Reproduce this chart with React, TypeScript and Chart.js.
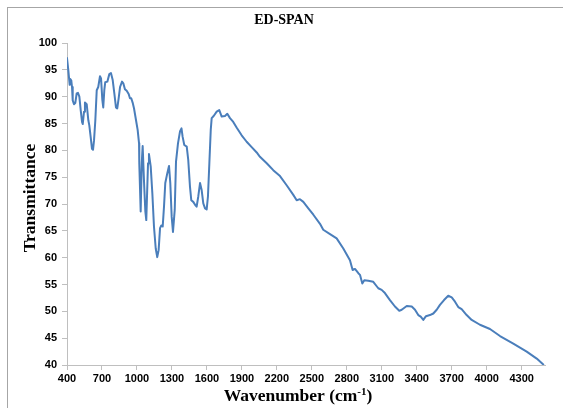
import React, { useEffect, useRef } from "react";
import { Chart, registerables } from "chart.js";

Chart.register(...registerables);

// Wavenumber (cm-1)
const wavenumbers = [
  400, 411, 417, 423, 428, 437, 443, 449, 460, 471,
  483, 494, 506, 518, 529, 535, 546, 554, 569, 583,
  591, 603, 614, 623, 632, 643, 655, 668, 683, 692,
  703, 711, 720, 728, 746, 763, 777, 792, 806, 820,
  831, 843, 855, 872, 883, 897, 912, 929, 940, 951,
  963, 975, 992, 1006, 1018, 1020, 1032, 1041, 1049, 1060,
  1072, 1080, 1095, 1103, 1118, 1132, 1146, 1161, 1174, 1186,
  1198, 1209, 1221, 1232, 1243, 1260, 1275, 1286, 1298, 1309,
  1324, 1335, 1352, 1369, 1382, 1392, 1406, 1427, 1440, 1455,
  1466, 1483, 1500, 1512, 1526, 1541, 1555, 1569, 1584, 1598,
  1609, 1621, 1633, 1641, 1658, 1684, 1706, 1727, 1755, 1775,
  1798, 1826, 1856, 1898, 1941, 1984, 2027, 2055, 2113, 2169,
  2227, 2284, 2341, 2370, 2398, 2427, 2470, 2513, 2570, 2598,
  2656, 2713, 2770, 2827, 2850, 2870, 2899, 2913, 2933, 2950,
  2984, 3027, 3070, 3099, 3127, 3170, 3213, 3250, 3271, 3314,
  3357, 3385, 3413, 3434, 3456, 3479, 3513, 3542, 3571, 3599,
  3634, 3670, 3700, 3728, 3756, 3785, 3828, 3871, 3942, 4028,
  4114, 4228, 4343, 4429, 4485,
];

// Transmittance (%)
const transmittance = [
  97.2, 95, 95, 92.2, 93.3, 93, 91.8, 89.3, 88.6, 88.8,
  90.6, 90.7, 90, 87.4, 85.3, 84.9, 87.2, 88.9, 88.6, 85.6,
  84.7, 82.5, 80.3, 80.1, 81.9, 85.6, 91.2, 91.8, 93.8, 93.4,
  89.4, 88, 91.2, 92.7, 92.8, 94.2, 94.4, 93.1, 90.6, 88,
  87.8, 89.7, 91.8, 92.8, 92.5, 91.4, 91.1, 90.5, 89.7, 89.7,
  88.9, 87.8, 85.6, 83.8, 81.3, 77.6, 68.6, 77.6, 80.8, 74.5,
  68.6, 67, 77.6, 79.3, 77, 72, 65.8, 61.7, 60.1, 61.4,
  65.5, 66, 65.8, 69.5, 73.9, 75.7, 77.1, 73.9, 67.6, 64.8,
  68.9, 77.9, 81.3, 83.5, 84.1, 82.5, 81, 80.7, 78.2, 73.2,
  70.7, 70.4, 69.8, 69.5, 71.4, 73.9, 72.6, 70.1, 69.2, 69,
  71.4, 77.6, 83.8, 86, 86.4, 87.2, 87.5, 86.3, 86.4, 86.8,
  86, 85.3, 84.2, 82.8, 81.6, 80.6, 79.6, 78.8, 77.6, 76.3,
  75.2, 73.5, 71.7, 70.7, 70.9, 70.4, 69.2, 68, 66.3, 65.2,
  64.4, 63.6, 61.7, 59.5, 57.7, 57.9, 57.1, 56.8, 55.2, 55.8,
  55.7, 55.5, 54.3, 54, 53.4, 52.1, 50.9, 50.1, 50.3, 51,
  50.9, 50.3, 49.3, 49, 48.4, 49.1, 49.3, 49.6, 50.3, 51.2,
  52.1, 52.9, 52.6, 51.8, 50.8, 50.4, 49.3, 48.4, 47.5, 46.7,
  45.4, 44, 42.5, 41.2, 40.1,
];

const xTicks = [400, 700, 1000, 1300, 1600, 1900, 2200, 2500, 2800, 3100, 3400, 3700, 4000, 4300];
const yTicks = [40, 45, 50, 55, 60, 65, 70, 75, 80, 85, 90, 95, 100];
const xMin = 400;
const xMax = 4500;
const yMin = 40;
const yMax = 100;

const chartTitle = "ED-SPAN";
const yAxisTitle = "Transmittance";
const xAxisTitleMain = "Wavenumber (cm";
const xAxisTitleSup = "-1";
const xAxisTitleEnd = ")";

const SERIF = '"Liberation Serif", "Times New Roman", serif';
const SANS = '"Liberation Sans", Arial, sans-serif';
const AXIS_GRAY = "#bfbfbf";

const titlesPlugin = {
  id: "titlesPlugin",
  afterDraw(chart: any) {
    const ctx = chart.ctx as CanvasRenderingContext2D;
    ctx.save();
    ctx.fillStyle = "#000";
    ctx.textBaseline = "alphabetic";

    // Chart title
    ctx.font = `bold 14px ${SERIF}`;
    ctx.textAlign = "center";
    ctx.fillText(chartTitle, 284, 24);

    // X axis title with superscript
    const cx = 298;
    const baseY = 401;
    ctx.textAlign = "left";
    ctx.font = `bold 17.5px ${SERIF}`;
    const w1 = ctx.measureText(xAxisTitleMain).width;
    const w3 = ctx.measureText(xAxisTitleEnd).width;
    ctx.font = `bold 11px ${SERIF}`;
    const w2 = ctx.measureText(xAxisTitleSup).width;
    let x = cx - (w1 + w2 + w3) / 2;
    ctx.font = `bold 17.5px ${SERIF}`;
    ctx.fillText(xAxisTitleMain, x, baseY);
    x += w1;
    ctx.font = `bold 11px ${SERIF}`;
    ctx.fillText(xAxisTitleSup, x, baseY - 6.5);
    x += w2;
    ctx.font = `bold 17.5px ${SERIF}`;
    ctx.fillText(xAxisTitleEnd, x, baseY);

    // Y axis title (rotated)
    ctx.translate(35, 198);
    ctx.rotate(-Math.PI / 2);
    ctx.textAlign = "center";
    ctx.font = `bold 17.5px ${SERIF}`;
    ctx.fillText(yAxisTitle, 0, 0);
    ctx.restore();
  },
};

export default function App() {
  const canvasRef = useRef<HTMLCanvasElement>(null);

  useEffect(() => {
    const canvas = canvasRef.current;
    if (!canvas) return;
    const points = wavenumbers.map((w, i) => ({ x: w, y: transmittance[i] }));
    const chart = new Chart(canvas, {
      type: "line",
      data: {
        datasets: [
          {
            data: points,
            borderColor: "#4a7ebb",
            backgroundColor: "#4a7ebb",
            borderWidth: 2,
            pointRadius: 0,
            tension: 0,
            borderJoinStyle: "round",
            borderCapStyle: "round",
            fill: false,
          },
        ],
      },
      options: {
        responsive: false,
        devicePixelRatio: 1,
        animation: false,
        events: [],
        layout: { padding: { top: 43, right: 18, left: 0, bottom: 0 } },
        plugins: {
          legend: { display: false },
          tooltip: { enabled: false },
          title: { display: false },
        },
        scales: {
          x: {
            type: "linear",
            min: xMin,
            max: xMax,
            afterBuildTicks: (scale: any) => {
              scale.ticks = xTicks.map((v) => ({ value: v }));
            },
            afterFit: (scale: any) => {
              scale.height = 43;
            },
            grid: {
              drawOnChartArea: false,
              drawTicks: true,
              tickLength: 5,
              color: AXIS_GRAY,
            },
            border: { display: true, color: AXIS_GRAY, width: 1 },
            ticks: {
              autoSkip: false,
              maxRotation: 0,
              minRotation: 0,
              padding: 2,
              color: "#000",
              font: { family: SANS, size: 11, weight: "bold" },
              callback: (v: any) => String(v),
            },
          },
          y: {
            type: "linear",
            min: yMin,
            max: yMax,
            afterBuildTicks: (scale: any) => {
              scale.ticks = yTicks.map((v) => ({ value: v }));
            },
            afterFit: (scale: any) => {
              scale.width = 67;
            },
            grid: {
              drawOnChartArea: false,
              drawTicks: true,
              tickLength: 5,
              color: AXIS_GRAY,
            },
            border: { display: true, color: AXIS_GRAY, width: 1 },
            ticks: {
              padding: 5,
              color: "#000",
              font: { family: SANS, size: 11, weight: "bold" },
              callback: (v: any) => String(v),
            },
          },
        },
      } as any,
      plugins: [titlesPlugin],
    });
    return () => chart.destroy();
  }, []);

  return (
    <div
      style={{
        position: "fixed",
        left: 0,
        top: 0,
        width: 563,
        height: 408,
        background: "#fff",
        overflow: "hidden",
      }}
    >
      <div
        style={{
          position: "absolute",
          left: 7,
          top: 7,
          right: -2,
          bottom: -2,
          borderLeft: "1px solid #a6a6a6",
          borderTop: "1px solid #a6a6a6",
        }}
      />
      <canvas
        ref={canvasRef}
        width={563}
        height={408}
        style={{ position: "absolute", left: 0, top: 0, width: 563, height: 408 }}
      />
    </div>
  );
}
